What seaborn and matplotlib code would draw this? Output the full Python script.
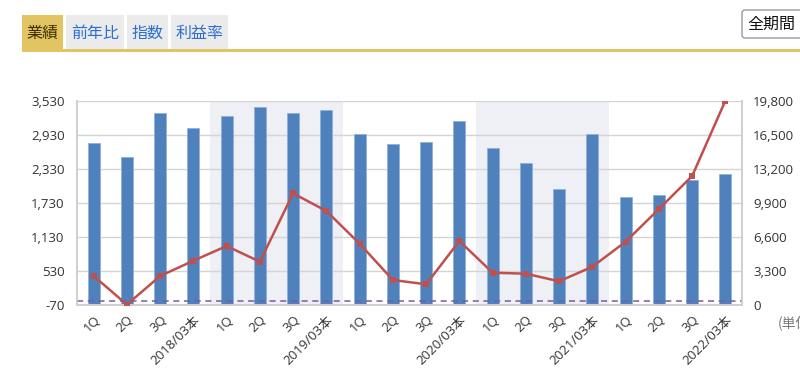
import matplotlib
matplotlib.use("Agg")
import matplotlib.pyplot as plt
import seaborn as sns
import pandas as pd
from matplotlib.patches import Rectangle, FancyBboxPatch

# data
periods = ['1Q', '2Q', '3Q', '2018/03本',
           '1Q', '2Q', '3Q', '2019/03本',
           '1Q', '2Q', '3Q', '2020/03本',
           '1Q', '2Q', '3Q', '2021/03本',
           '1Q', '2Q', '3Q', '2022/03本']
bar_values = [2777, 2541, 3305, 3051, 3262, 3410, 3305, 3363, 2940, 2770,
              2794, 3174, 2689, 2435, 1967, 2946, 1837, 1867, 2136, 2242]
line_values = [2807, 40, 2807, 4288, 5711, 4191, 10813, 9099, 5934, 2420,
               2004, 6195, 3127, 3030, 2294, 3707, 6127, 9293, 12487, 19780]
left_ticks = [-70, 530, 1130, 1730, 2330, 2930, 3530]
right_ticks = [0, 3300, 6600, 9900, 13200, 16500, 19800]
shaded = [(3.5, 7.5), (11.5, 15.5)]
tabs = ['業績', '前年比', '指数', '利益率']

df = pd.DataFrame({'pos': range(len(periods)), 'bar': bar_values, 'line': line_values})

sns.set_style('white')
plt.rcParams['font.family'] = ['Open Sans', 'Noto Sans CJK JP', 'DejaVu Sans']
cjk = ['Noto Sans CJK JP', 'DejaVu Sans']

fig = plt.figure(figsize=(8, 3.89), dpi=100)
ax = fig.add_axes([77 / 800, 1 - 305 / 389, 665 / 800, 204.5 / 389])

# shaded years
for a, b in shaded:
    ax.axvspan(a, b, color='#efeff6', zorder=0, lw=0)

ax.set_yticks(left_ticks)
ax.set_ylim(-70, 3530)
ax.grid(axis='y', color='#d4d4d4', lw=1)
ax.set_axisbelow(True)

sns.barplot(data=df, x='pos', y='bar', color='#4f81bd', width=0.36,
            saturation=1, edgecolor='#8fb0dc', linewidth=0.6, ax=ax, zorder=2)
# bars start at the bottom of the axis
for p in ax.patches:
    if p.get_height() > 0 and p.get_width() < 1:
        h = p.get_height()
        p.set_y(-70)
        p.set_height(h + 70)

ax.axhline(0, color='#7a5aa6', ls=(0, (4, 3)), lw=1.1, zorder=3)
ax.set_xlim(-0.5, len(periods) - 0.5)
ax.set_xticks(range(len(periods)))
ax.set_xticklabels(periods, rotation=45, ha='right', rotation_mode='anchor',
                   fontsize=9.5, color='#333333')
ax.set_xticks([i + 0.5 for i in range(len(periods) - 1)], minor=True)
ax.tick_params(axis='x', which='major', length=0, pad=6)
ax.tick_params(axis='x', which='minor', length=5, direction='in', color='#c8c8c8')
ax.set_yticklabels([f'{v:,}' for v in left_ticks], fontsize=9.5, color='#333333')
ax.tick_params(axis='y', length=0, pad=9)
ax.set_xlabel('')
ax.set_ylabel('')

ax2 = ax.twinx()
sns.lineplot(data=df, x='pos', y='line', color='#c0504d', lw=1.8, marker='s',
             markersize=4.5, markeredgewidth=0, ax=ax2, zorder=4)
ax2.set_ylim(0, 19800)
ax2.set_yticks(right_ticks)
ax2.set_yticklabels([f'{v:,}' for v in right_ticks], fontsize=9.5, color='#333333')
ax2.tick_params(axis='y', length=0, pad=8)
ax2.set_xlabel('')
ax2.set_ylabel('')
ax2.set_xlim(-0.5, len(periods) - 0.5)

for a in (ax, ax2):
    a.spines['top'].set_visible(False)
    for side in ['left', 'right', 'bottom']:
        a.spines[side].set_color('#cfcfcf')
        a.spines[side].set_linewidth(1.2)

# page elements around the chart (pixel coordinates)
ov = fig.add_axes([0, 0, 1, 1], zorder=-1)
ov.set_xlim(0, 800)
ov.set_ylim(389, 0)
ov.axis('off')
tab_x = [(22, 63), (66, 124), (127, 168), (171, 228)]
for i, (name, (x0, x1)) in enumerate(zip(tabs, tab_x)):
    fc = '#e3c462' if i == 0 else '#ebebeb'
    tc = '#3a3000' if i == 0 else '#2b6fd1'
    ov.add_patch(Rectangle((x0, 15), x1 - x0, 35, facecolor=fc, edgecolor='none'))
    ov.text((x0 + x1) / 2, 33, name, ha='center', va='center', fontsize=11.5,
            color=tc, family=cjk)
ov.add_patch(Rectangle((22, 49), 778, 3, facecolor='#e3c462', edgecolor='none'))
ov.add_patch(FancyBboxPatch((742, 10), 70, 28, boxstyle='round,pad=0,rounding_size=3',
                            facecolor='white', edgecolor='#9a9a9a', lw=1))
ov.text(747, 24, '全期間', ha='left', va='center', fontsize=11.5, color='#111111',
        family=cjk)
# the unit note is clipped by the right edge, as in the reference
ov.text(778, 323, '(単位', ha='left', va='center', fontsize=10, color='#777777',
        family=cjk)

fig.savefig('out.png', dpi=100)
